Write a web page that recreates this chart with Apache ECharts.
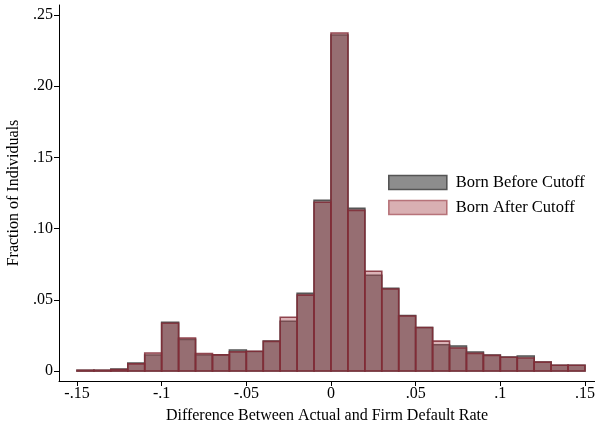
<!DOCTYPE html>
<html>
<head>
<meta charset="utf-8">
<script src="https://cdn.jsdelivr.net/npm/echarts@6/dist/echarts.min.js"></script>
<style>
  html, body { margin: 0; padding: 0; background: #ffffff; }
  #chart { width: 595px; height: 427px; }
</style>
</head>
<body>
<div id="chart"></div>
<script>
// Left edge of each 0.01-wide bin
const binStarts = [-0.15, -0.14, -0.13, -0.12, -0.11, -0.10, -0.09, -0.08, -0.07, -0.06,
                   -0.05, -0.04, -0.03, -0.02, -0.01, 0.00, 0.01, 0.02, 0.03, 0.04,
                   0.05, 0.06, 0.07, 0.08, 0.09, 0.10, 0.11, 0.12, 0.13, 0.14];
const binWidth = 0.01;

// Fraction of individuals per bin
const bornBefore = [0.0005, 0.0005, 0.0013, 0.0056, 0.0112, 0.0342, 0.0222, 0.0112, 0.0113, 0.0147,
                    0.0137, 0.0210, 0.0349, 0.0545, 0.1199, 0.2360, 0.1142, 0.0672, 0.0580, 0.0390,
                    0.0306, 0.0184, 0.0176, 0.0133, 0.0112, 0.0098, 0.0105, 0.0063, 0.0040, 0.0040];
const bornAfter  = [0.0005, 0.0005, 0.0010, 0.0050, 0.0126, 0.0335, 0.0232, 0.0122, 0.0113, 0.0134,
                    0.0139, 0.0208, 0.0377, 0.0533, 0.1185, 0.2374, 0.1128, 0.0700, 0.0576, 0.0386,
                    0.0305, 0.0210, 0.0162, 0.0124, 0.0110, 0.0097, 0.0091, 0.0062, 0.0040, 0.0040];

const xTicks = [-0.15, -0.10, -0.05, 0, 0.05, 0.10, 0.15];
const xTickLabels = ['-.15', '-.1', '-.05', '0', '.05', '.1', '.15'];
const yTicks = [0, 0.05, 0.10, 0.15, 0.20, 0.25];
const yTickLabels = ['0', '.05', '.10', '.15', '.20', '.25'];

const seriesNames = ['Born Before Cutoff', 'Born After Cutoff'];

const FONT = '"Liberation Serif", "Times New Roman", serif';

function histData(values) {
  return binStarts.map((b, i) => [b, values[i]]);
}

function makeRender(fill, stroke) {
  return function (params, api) {
    const x0 = api.value(0);
    const h = api.value(1);
    const p0 = api.coord([x0, 0]);
    const p1 = api.coord([x0 + binWidth, h]);
    return {
      type: 'rect',
      shape: { x: p0[0], y: p1[1], width: p1[0] - p0[0], height: p0[1] - p1[1] },
      style: { fill: fill, stroke: stroke, lineWidth: 1.6 }
    };
  };
}

const grayFill = '#8d8d8d', grayStroke = '#555555';
const pinkFill = 'rgba(165,66,74,0.40)', pinkStroke = 'rgba(128,44,54,0.85)';

const chart = echarts.init(document.getElementById('chart'), null, { renderer: 'canvas' });

chart.setOption({
  animation: false,
  backgroundColor: '#ffffff',
  grid: { left: 59, right: 0, top: 5, bottom: 46, containLabel: false, outerBoundsMode: 'none' },
  xAxis: {
    type: 'value',
    min: -0.16063,
    max: 0.15591,
    axisLine: { show: true, onZero: false, lineStyle: { color: '#000', width: 1 } },
    axisTick: { show: true, length: 5, lineStyle: { color: '#000' }, customValues: xTicks },
    axisLabel: {
      customValues: xTicks,
      formatter: v => xTickLabels[xTicks.findIndex(t => Math.abs(t - v) < 1e-9)],
      fontFamily: FONT, fontSize: 16, color: '#000', margin: 5
    },
    splitLine: { show: false },
    name: 'Difference Between Actual and Firm Default Rate',
    nameLocation: 'middle',
    nameGap: 27,
    nameTextStyle: { fontFamily: FONT, fontSize: 16, color: '#000' }
  },
  yAxis: {
    type: 'value',
    min: -0.00702,
    max: 0.25702,
    axisLine: { show: true, onZero: false, lineStyle: { color: '#000', width: 1 } },
    axisTick: { show: true, length: 5, lineStyle: { color: '#000' }, customValues: yTicks },
    axisLabel: {
      customValues: yTicks,
      formatter: v => yTickLabels[yTicks.findIndex(t => Math.abs(t - v) < 1e-9)],
      fontFamily: FONT, fontSize: 16, color: '#000', margin: 6
    },
    splitLine: { show: false },
    name: 'Fraction of Individuals',
    nameLocation: 'middle',
    nameGap: 36,
    nameTextStyle: { fontFamily: FONT, fontSize: 16, color: '#000' }
  },
  legend: {
    left: 388, top: 174,
    padding: 0,
    orient: 'vertical',
    itemWidth: 58, itemHeight: 14, itemGap: 8,
    textStyle: { fontFamily: FONT, fontSize: 16.5, color: '#000', padding: [0, 0, 0, 4] },
    data: [
      { name: seriesNames[0], icon: 'rect', itemStyle: { color: grayFill, borderColor: grayStroke, borderWidth: 1.6 } },
      { name: seriesNames[1], icon: 'rect', itemStyle: { color: 'rgba(165,66,74,0.42)', borderColor: 'rgba(170,90,98,0.8)', borderWidth: 1.6 } }
    ]
  },
  series: [
    {
      name: seriesNames[0], type: 'custom',
      renderItem: makeRender(grayFill, grayStroke),
      encode: { x: 0, y: 1 },
      itemStyle: { color: grayFill },
      data: histData(bornBefore)
    },
    {
      name: seriesNames[1], type: 'custom',
      renderItem: makeRender(pinkFill, pinkStroke),
      encode: { x: 0, y: 1 },
      itemStyle: { color: pinkFill },
      data: histData(bornAfter)
    }
  ]
});
</script>
</body>
</html>
